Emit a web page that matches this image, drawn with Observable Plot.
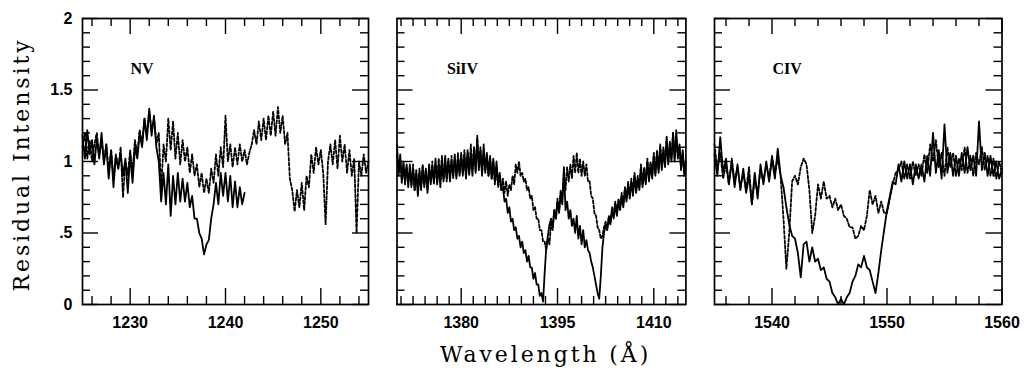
<!DOCTYPE html>
<html><head><meta charset="utf-8">
<script src="https://cdn.jsdelivr.net/npm/d3@7"></script>
<script src="https://cdn.jsdelivr.net/npm/@observablehq/plot@0.6"></script>
<style>
body{margin:0;background:#fff;color:#000;}
#wrap{position:relative;width:1031px;height:374px;overflow:hidden;background:#fff;color:#000;}
.layer{position:absolute;top:0;}
</style></head><body>
<div id="wrap"></div>
<script>
// ---- data ----
const yMajor = [0, 0.5, 1, 1.5, 2];
const yTickLabels = ["0", ".5", "1", "1.5", "2"];
const yMinor = [0.1,0.2,0.3,0.4,0.6,0.7,0.8,0.9,1.1,1.2,1.3,1.4,1.6,1.7,1.8,1.9];
const xTitle = "Wavelength (Å)";
const yTitle = "Residual Intensity";

// N V panel, sampled every 0.25 Å from 1225 Å
const nvStart = 1225, nvStep = 0.25;
const nvSolid = [
  1.18,1.02,1.22,1.05, 1.15,0.98,1.16,1.02, 1.2,0.98,1.12,0.88, 1.08,0.82,1.04,0.95,
  1.06,0.9,1.02,0.78, 1.05,0.85,1.1,1.02, 1.2,1.1,1.3,1.15, 1.37,1.18,1.32,1.1,
  1.0,0.72,0.92,0.7, 0.98,0.62,0.9,0.7, 0.92,0.72,0.88,0.72, 0.85,0.68,0.76,0.6,
  0.6,0.5,0.46,0.35, 0.42,0.45,0.6,0.7, 0.85,0.7,0.92,0.76, 0.92,0.72,0.9,0.68,
  0.86,0.68,0.82,0.7, 0.78];
const nvDashed = [
  1.1,1.2,1.02,1.15, 1.0,1.12,1.2,1.04, 1.15,1.0,1.12,0.92, 1.08,0.88,1.05,0.95,
  1.1,0.75,1.0,0.9, 1.08,0.92,1.15,1.05, 1.22,1.12,1.3,1.18, 1.35,1.22,1.3,1.12,
  1.2,0.8,1.12,1.0, 1.3,1.08,1.28,1.02, 1.2,0.98,1.15,1.0, 1.1,0.92,1.05,0.9,
  0.98,0.82,0.92,0.78, 0.88,0.78,0.95,0.85, 1.05,0.9,1.1,0.96, 1.32,1.0,1.12,0.96,
  1.1,0.98,1.12,1.0, 1.08,0.98,1.06,1.12, 1.22,1.12,1.28,1.15, 1.3,1.15,1.32,1.18,
  1.35,1.18,1.38,1.2, 1.32,1.12,1.2,0.88, 0.8,0.65,0.8,0.68, 0.85,0.66,0.9,0.82,
  1.05,0.92,1.1,0.98, 1.08,0.92,0.56,1.0, 1.12,0.98,1.15,0.95, 1.18,1.0,1.12,0.92,
  1.08,0.9,1.02,0.5, 1.0,0.9,1.05,0.92, 1.0];

// Si IV panel, sampled every 0.25 Å from 1370 Å
const siStart = 1370, siStep = 0.25;
const siSolid = [
  1.12,0.9,1.05,0.85, 1.0,0.86,0.98,0.82, 0.98,0.84,0.95,0.8, 0.94,0.76,0.92,0.8,
  0.96,0.82,0.95,0.78, 0.98,0.84,0.96,0.86, 1.02,0.84,0.98,0.82, 1.0,0.86,1.04,0.88,
  1.02,0.86,1.0,0.9, 1.05,0.88,1.02,0.9, 1.06,0.9,1.04,0.88, 1.08,0.92,1.06,0.9,
  1.1,0.92,1.16,0.94, 1.08,0.9,1.12,0.92, 1.06,0.9,1.04,0.88, 1.02,0.86,1.0,0.84,
  0.92,0.8,0.82,0.72, 0.74,0.64,0.68,0.58, 0.6,0.52,0.54,0.46, 0.48,0.4,0.44,0.36,
  0.38,0.3,0.34,0.26, 0.26,0.18,0.22,0.14, 0.14,0.06,0.08,0.02, 0.22,0.4,0.48,0.56,
  0.6,0.54,0.66,0.6, 0.72,0.64,0.78,0.7, 0.96,0.66,0.72,0.6, 0.66,0.55,0.6,0.5,
  0.62,0.46,0.55,0.42, 0.52,0.4,0.45,0.38, 0.36,0.3,0.26,0.2, 0.14,0.08,0.04,0.2,
  0.4,0.5,0.56,0.52, 0.6,0.56,0.66,0.6, 0.7,0.62,0.72,0.66, 0.76,0.68,0.8,0.72,
  0.84,0.74,0.86,0.76, 0.9,0.78,0.88,0.8, 0.96,0.82,0.94,0.84, 1.0,0.86,0.98,0.88,
  1.04,0.9,1.06,0.92, 1.1,0.94,1.08,0.96, 1.15,0.98,1.12,1.0, 1.2,1.0,1.22,1.02,
  1.12,0.95,1.08,0.92, 1.0];
const siDashed = [
  1.05,0.92,1.02,0.88, 0.98,0.84,0.96,0.86, 0.94,0.82,0.98,0.8, 0.92,0.8,0.95,0.82,
  0.98,0.84,0.94,0.8, 0.96,0.86,1.0,0.84, 0.98,0.86,1.02,0.88, 1.04,0.88,0.98,0.86,
  1.0,0.9,1.04,0.88, 1.02,0.9,1.06,0.92, 1.04,0.92,1.08,0.9, 1.06,0.9,1.12,0.94,
  1.08,0.94,1.18,0.96, 1.1,0.92,1.06,0.94, 1.04,0.9,1.02,0.88, 1.0,0.84,0.96,0.82,
  0.9,0.8,0.88,0.78, 0.86,0.76,0.84,0.8, 0.9,0.84,0.98,0.92, 1.0,0.9,0.92,0.86,
  0.88,0.8,0.82,0.74, 0.76,0.66,0.68,0.6, 0.6,0.52,0.52,0.44, 0.44,0.38,0.46,0.42,
  0.58,0.52,0.66,0.6, 0.74,0.66,0.8,0.74, 0.92,0.8,0.96,0.86, 0.98,0.88,1.04,0.92,
  1.06,0.92,1.02,0.9, 1.0,0.9,0.98,0.86, 0.86,0.76,0.74,0.64, 0.62,0.54,0.52,0.46,
  0.48,0.54,0.58,0.54, 0.62,0.58,0.68,0.62, 0.72,0.64,0.74,0.68, 0.78,0.7,0.82,0.74,
  0.86,0.76,0.88,0.78, 0.92,0.8,0.9,0.82, 0.98,0.84,0.96,0.86, 1.02,0.88,1.0,0.9,
  1.06,0.92,1.08,0.94, 1.12,0.96,1.1,0.98, 1.18,1.0,1.14,1.02, 1.2,1.02,1.16,1.04,
  1.1,0.94,1.06,0.9, 0.98];

// C IV panel, sampled every 0.25 Å from 1535 Å
const cStart = 1535, cStep = 0.25;
const cSolid = [
  1.05,0.9,1.17,0.92, 1.02,0.84,1.0,0.82, 0.98,0.8,0.95,0.78, 0.9,0.7,0.92,0.74,
  0.98,0.84,1.0,0.86, 1.02,0.88,1.09,0.9, 0.82,0.68,0.56,0.48, 0.46,0.36,0.19,0.42,
  0.44,0.3,0.4,0.3, 0.32,0.24,0.26,0.18, 0.16,0.08,0.05,0.0, 0.04,0.0,0.05,0.08,
  0.16,0.2,0.28,0.26, 0.34,0.26,0.24,0.16, 0.08,0.22,0.38,0.52, 0.66,0.76,0.86,0.84,
  0.98,0.86,1.0,0.88, 0.98,0.84,0.98,0.88, 0.98,0.86,1.04,0.9, 1.2,0.92,1.08,0.88,
  1.26,0.92,1.06,0.9, 1.04,0.9,1.06,0.92, 1.1,0.94,1.04,0.9, 1.28,0.94,1.06,0.9,
  1.04,0.9,1.0,0.88, 0.95];
const cDashed = [
  1.12,0.94,1.06,0.88, 0.98,0.84,1.02,0.86, 0.96,0.82,0.92,0.8, 0.96,0.7,0.88,0.78,
  0.94,0.86,0.98,0.88, 1.04,0.92,1.02,0.9, 0.6,0.25,0.5,0.86, 0.9,0.84,0.96,1.02,
  0.98,0.8,0.5,0.62, 0.84,0.74,0.86,0.74, 0.76,0.68,0.74,0.66, 0.7,0.62,0.6,0.54,
  0.54,0.46,0.48,0.55, 0.52,0.62,0.8,0.7, 0.76,0.64,0.72,0.64, 0.64,0.74,0.84,0.92,
  0.94,1.0,0.88,0.98, 0.88,1.0,0.9,0.98, 0.9,1.05,0.92,1.12, 1.0,1.15,0.96,1.06,
  0.9,1.1,0.96,1.06, 0.9,1.02,0.94,1.1, 0.92,1.04,0.9,1.06, 0.98,1.1,0.94,1.04,
  0.9,1.02,0.88,1.0, 0.92];

const nvMajor = [1230, 1240, 1250];
const nvMinor = [1226,1228,1232,1234,1236,1238,1242,1244,1246,1248,1252,1254];
const siMajor = [1380, 1395, 1410];
const siMinor = [1370.625,1372.5,1374.375,1376.25,1378.125,1381.875,1383.75,1385.625,1387.5,1389.375,1391.25,1393.125,1396.875,1398.75,1400.625,1402.5,1404.375,1406.25,1408.125,1411.875,1413.75];
const cMajor = [1540, 1550, 1560];
const cMinor = [1536,1538,1542,1544,1546,1548,1552,1554,1556,1558];

const labels = ["NV", "SiIV", "CIV"];

// ---- drawing ----
const toRows = (start, step, vals) => vals.map((v, i) => ({w: start + i * step, r: v}));
const H = 340, MT = 18, MB = 36, innerH = H - MT - MB;
const MAJ = 16, MIN = 8, TW = 1.4, INK = "#000";

function layer(o, marks) {
  const svg = Plot.plot({
    width: o.width, height: H, marginTop: MT, marginBottom: MB, marginLeft: o.ml, marginRight: o.mr,
    x: {domain: o.domain, axis: null},
    y: {domain: [0, 2], axis: null},
    style: {background: "transparent", overflow: "visible"},
    marks
  });
  svg.classList.add("layer");
  svg.style.left = o.left + "px";
  return svg;
}

function panel(o) {
  const innerW = o.width - o.ml - o.mr;
  // layer 1: spectra and frame
  const g = layer(o, [
    Plot.line(toRows(o.start, o.step, o.dashed), {x: "w", y: "r", stroke: INK, strokeWidth: 1.8, strokeDasharray: "3,2"}),
    Plot.line(toRows(o.start, o.step, o.solid), {x: "w", y: "r", stroke: INK, strokeWidth: 1.8}),
    Plot.frame({stroke: INK, strokeWidth: 1.7})
  ]);
  // layer 2: inward tick marks on all four sides
  const k = layer(o, [
    Plot.ruleX(o.major, {x: d => d, stroke: INK, strokeWidth: TW, insetTop: innerH - MAJ}),
    Plot.ruleX(o.minor, {x: d => d, stroke: INK, strokeWidth: TW, insetTop: innerH - MIN}),
    Plot.ruleX(o.major, {x: d => d, stroke: INK, strokeWidth: TW, insetBottom: innerH - MAJ}),
    Plot.ruleX(o.minor, {x: d => d, stroke: INK, strokeWidth: TW, insetBottom: innerH - MIN}),
    Plot.ruleY(yMajor, {y: d => d, stroke: INK, strokeWidth: TW, insetRight: innerW - MAJ}),
    Plot.ruleY(yMinor, {y: d => d, stroke: INK, strokeWidth: TW, insetRight: innerW - MIN}),
    Plot.ruleY(yMajor, {y: d => d, stroke: INK, strokeWidth: TW, insetLeft: innerW - MAJ}),
    Plot.ruleY(yMinor, {y: d => d, stroke: INK, strokeWidth: TW, insetLeft: innerW - MIN})
  ]);
  // layer 3: tick labels and panel label
  const tmarks = [
    Plot.axisX(o.major, {anchor: "bottom", tickSize: 0, tickPadding: 12, tickFormat: d => String(d), label: null, fontSize: 16, fontWeight: "bold", fontFamily: "Liberation Sans", fill: INK}),
    Plot.text([o.label], {frameAnchor: "top-left", dx: o.labelDx, dy: 50, text: d => d, textAnchor: "start", lineAnchor: "middle", fontFamily: "Liberation Serif", fontWeight: "bold", fontSize: 16, fill: INK})
  ];
  if (o.showY) tmarks.push(Plot.axisY(yMajor, {anchor: "left", tickSize: 0, tickPadding: 10, tickFormat: (d, i) => yTickLabels[i], label: null, fontSize: 16, fontWeight: "bold", fontFamily: "Liberation Sans", fill: INK}));
  const t = layer(o, tmarks);
  return [g, k, t];
}

const wrap = document.getElementById("wrap");
const panels = [
  {left: 0, width: 380, ml: 82, mr: 12, domain: [1225, 1255], start: nvStart, step: nvStep, solid: nvSolid, dashed: nvDashed, major: nvMajor, minor: nvMinor, label: labels[0], labelDx: 48, showY: true},
  {left: 380, width: 320, ml: 16.5, mr: 14.6, domain: [1370, 1415], start: siStart, step: siStep, solid: siSolid, dashed: siDashed, major: siMajor, minor: siMinor, label: labels[1], labelDx: 50, showY: false},
  {left: 700, width: 331, ml: 14, mr: 29.5, domain: [1535, 1560], start: cStart, step: cStep, solid: cSolid, dashed: cDashed, major: cMajor, minor: cMinor, label: labels[2], labelDx: 58, showY: false}
];
for (const o of panels) for (const svg of panel(o)) wrap.appendChild(svg);

// axis titles, drawn as text marks in a full-size overlay
const titles = Plot.plot({
  width: 1031, height: 374, margin: 0,
  style: {background: "transparent", overflow: "visible", letterSpacing: "2.9px"},
  marks: [
    Plot.text([xTitle], {frameAnchor: "top-left", dx: 545, dy: 354, text: d => d, textAnchor: "middle", lineAnchor: "middle", fontFamily: "DejaVu Serif", fontSize: 22, fill: INK}),
    Plot.text([yTitle], {frameAnchor: "top-left", dx: 21, dy: 164, rotate: -90, text: d => d, textAnchor: "middle", lineAnchor: "middle", fontFamily: "DejaVu Serif", fontSize: 22, fill: INK})
  ]
});
titles.classList.add("layer");
titles.style.left = "0px";
wrap.appendChild(titles);
</script>
</body></html>
